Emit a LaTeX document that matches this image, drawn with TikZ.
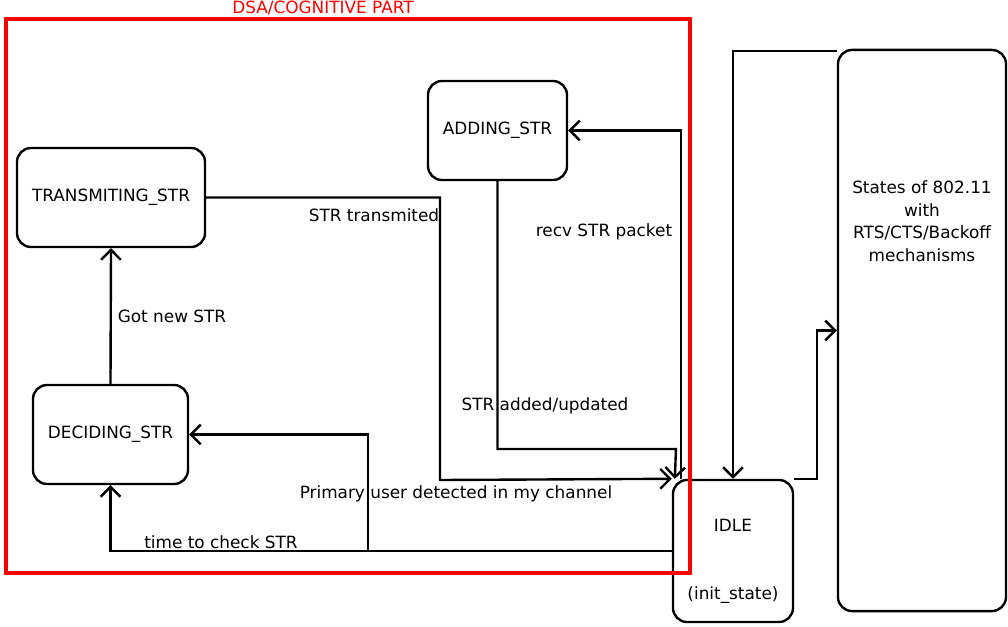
\documentclass[tikz,border=0pt]{standalone}
\usepackage{fontspec}
\setmainfont{DejaVu Sans}
\usetikzlibrary{arrows.meta,calc}

\begin{document}
\begin{tikzpicture}[x=0.025cm, y=-0.025cm,
    >={Straight Barb[length=7pt,width=14pt]},
    every node/.style={font=\fontsize{12}{16}\selectfont},
    state/.style={draw, line width=1.7pt, rounded corners=10pt, align=center},
    flow/.style={->, line width=1.7pt}]
  \useasboundingbox (0,0) rectangle (1008,626);
  % DSA states
  \node[state, minimum width=4.7cm, minimum height=2.475cm] (trans) at (111,197.5) {TRANSMITING\_STR};
  \node[state, minimum width=3.875cm, minimum height=2.475cm] (decid) at (110.5,434.5) {DECIDING\_STR};
  \node[state, minimum width=3.475cm, minimum height=2.475cm] (adding) at (497.5,130.5) {ADDING\_STR};
  % IDLE state
  \node[state, minimum width=3cm, minimum height=3.55cm] (idle) at (733,551) {};
  \node (idlename) at (733,525) {IDLE};
  \node (idleinit) at (733,595) {(init\_state)};
  % 802.11 part
  \node[state, minimum width=4.2cm, minimum height=14.025cm] (mac) at (922,330.5) {};
  \node[align=center] (mactxt) at (922,221) {States of 802.11\\with\\RTS/CTS/Backoff\\mechanisms};
  % transitions inside DSA part
  \draw[flow] (trans.east) -| (440,480) -- (idle.north west);
  \node (lbltrans) at (374,215) {STR transmited};
  \draw[flow] (adding.south) |- (676,449) -- ($(idle.north west)+(3,0)$);
  \node (lbladded) at (545,406) {STR added/updated};
  \draw[flow] ($(idle.north west)+(9,0)$) |- (adding.east);
  \node (lblrecv) at (604,232) {recv STR packet};
  \coordinate (fork) at (368,551);
  \draw[flow] (idle.west) -| (decid.south);
  \draw[flow] (fork) |- (decid.east);
  \node (lblcheck) at (221,542) {time to check STR};
  \node (lblprimary) at (456,494) {Primary user detected in my channel};
  \draw[flow] (decid.north) -- (trans.south);
  \node (lblgot) at (172,316) {Got new STR};
  % links to 802.11
  \draw[flow] ([yshift=-1.5pt]mac.north west) -| (idle.north);
  \draw[flow] (idle.north east) -- ++(23,0) |- (mac.west);
  % DSA frame
  \draw[red, line width=2.4pt] (6,19) rectangle (690,573);
  \node[red] (dsatitle) at (323,8) {DSA/COGNITIVE PART};
\end{tikzpicture}
\end{document}
